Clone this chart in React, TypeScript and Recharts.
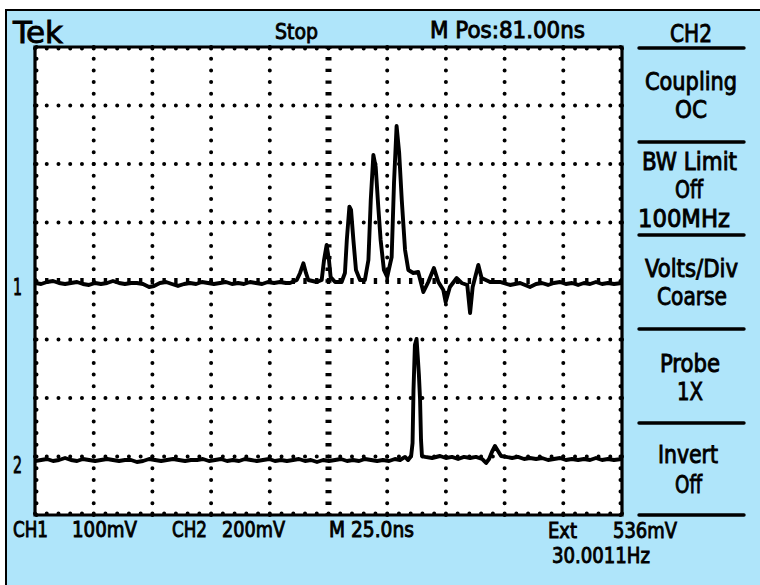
import React from 'react';
import { LineChart, Line, XAxis, YAxis, ReferenceLine, ReferenceArea } from 'recharts';

// CH1 samples: [time ns, mV] (100 mV/div, ground at centre)
const ch1Samples: [number, number][] = [
  [0, -3.4], [2.6, -5.1], [5.1, -1.7], [7.7, 0], [10.2, -3.4], [12.8, -5.1], [15.3, -3.4], [17.9, -1.7],
  [20.4, -5.1], [23.0, -6.8], [25.6, -3.4], [28.1, -5.1], [30.7, -3.4], [33.2, 0], [35.8, -3.4], [38.3, -5.1],
  [40.9, -3.4], [43.4, -3.4], [46.0, -5.1], [48.6, -10.3], [50.7, -8.5], [53.2, -3.4], [55.8, -1.7], [58.3, -5.1],
  [60.9, -8.5], [63.5, -5.1], [66.0, -3.4], [68.6, -5.1], [71.1, -1.7], [73.7, -3.4], [76.2, -5.1], [78.8, -3.4],
  [81.3, -1.7], [83.9, -5.1], [86.5, -3.4], [89.0, -5.1], [91.6, -1.7], [94.1, -3.4], [96.7, -5.1], [99.2, -1.7],
  [101.8, -3.4], [104.3, -1.7], [106.9, -3.4], [108.6, -3.4],
  [111.5, 1.7], [112.9, 13.7], [114.3, 30.3], [115.4, 13.7], [116.4, 1.7], [120.0, -1.7], [122.1, 1.7],
  [123.1, 35.9], [124.2, 61.5], [125.2, 35.9], [125.9, 6.8], [127.8, -1.7], [130.6, -1.7],
  [132.0, 13.7], [132.8, 70.1], [133.9, 127.0], [134.6, 121.4], [135.6, 70.1], [136.7, 18.8], [138.4, 1.7],
  [140.5, 1.7], [142.0, 35.9], [143.0, 138.5], [144.1, 215.4], [145.1, 194.9], [146.2, 126.5], [147.2, 70.1],
  [148.6, 18.8], [150.0, 6.8], [151.9, 41.0], [152.9, 167.5], [154.0, 265.0], [155.1, 218.8], [156.2, 138.5],
  [157.6, 53.0], [159.0, 18.8], [161.1, 13.7], [163.2, 15.4], [165.4, -18.8], [167.5, -1.7], [169.9, 22.2],
  [171.8, -1.7], [173.9, -15.4], [174.9, -35.9], [176.7, -10.3], [179.6, 5.1], [181.7, -3.4], [184.1, -6.8],
  [185.3, -54.7], [186.4, -10.3], [188.8, 27.4], [190.2, 5.1], [193.8, -1.7], [198.0, -1.7], [202.3, -6.8],
  [206.6, -3.4], [210.8, -10.3], [213.4, -5.1], [215.9, -3.4], [218.5, -6.8], [221.0, -3.4], [223.6, -1.7],
  [226.1, -5.1], [228.7, -3.4], [231.3, -6.8], [233.8, -3.4], [236.4, -5.1], [238.9, -1.7], [241.5, -5.1],
  [244.0, -3.4], [246.6, -5.1], [250.0, -3.4],
];

// CH2 samples: [time ns, mV] (200 mV/div)
const ch2Samples: [number, number][] = [
  [0, 4.6], [2.6, 8.0], [5.1, 11.5], [7.7, 4.6], [10.2, 8.0], [12.8, 14.9], [15.3, 8.0], [17.9, 4.6],
  [20.4, 11.5], [23.0, 8.0], [25.6, 4.6], [28.1, 8.0], [30.7, 11.5], [33.2, 8.0], [35.8, 4.6], [38.3, 8.0],
  [40.9, 8.0], [43.4, 1.2], [46.0, 4.6], [48.6, 11.5], [51.1, 8.0], [53.7, 4.6], [56.2, 8.0], [58.8, 11.5],
  [61.3, 8.0], [63.9, 4.6], [66.4, 8.0], [69.0, 8.0], [71.5, 11.5], [74.1, 4.6], [76.7, 8.0], [79.2, 11.5],
  [81.8, 4.6], [84.3, 8.0], [86.9, 4.6], [89.4, 11.5], [92.0, 8.0], [94.5, 4.6], [97.1, 8.0], [99.7, 11.5],
  [102.2, 4.6], [104.8, 8.0], [107.3, 4.6], [109.9, 8.0], [112.4, 11.5], [115.0, 4.6], [117.5, 8.0], [120.1, 1.2],
  [122.7, 8.0], [125.2, 4.6], [127.8, 8.0], [130.3, 11.5], [132.9, 4.6], [135.4, 8.0], [138.0, 4.6], [140.5, 11.5],
  [143.1, 8.0], [145.7, 4.6], [148.2, 8.0], [150.8, 4.6], [153.3, 11.5], [155.5, 8.0], [157.6, 18.5], [158.9, 8.0],
  [160.2, 21.7], [160.8, 66.2], [161.2, 247.4], [161.8, 401.2], [162.5, 421.7], [163.1, 350.0], [163.5, 298.7],
  [164.0, 213.3], [164.4, 76.6], [164.8, 21.7], [166.1, 18.5], [169.1, 14.9], [172.5, 21.7], [175.0, 14.9],
  [177.6, 18.5], [180.2, 11.5], [182.7, 18.5], [185.3, 14.9], [187.8, 18.5], [190.4, 11.5], [192.1, -2.2],
  [193.4, 11.5], [194.6, 35.4], [195.9, 55.9], [197.2, 38.8], [198.5, 21.7], [200.6, 18.5], [203.2, 14.9],
  [205.7, 18.5], [208.3, 11.5], [210.8, 14.9], [213.4, 11.5], [215.9, 14.9], [218.5, 8.0], [221.0, 11.5],
  [223.6, 14.9], [226.1, 8.0], [228.7, 11.5], [231.3, 8.0], [233.8, 11.5], [236.4, 8.0], [238.9, 14.9],
  [241.5, 8.0], [244.0, 11.5], [246.6, 8.0], [250.0, 11.5],
];

const gridTimes = [25, 50, 75, 100, 150, 175, 200, 225];
const centerTime = 125;
const gridLevelsCh1 = [-300, -200, -100, 100, 200, 300];
const centerLevelCh1 = 0;

const headerTexts: [string, number, number, number, number][] = [
  // text, x, baseline, fontSize, width
  ['Tek', 13, 43, 31, 50],
  ['Stop', 275, 38.5, 22, 43],
  ['M Pos:81.00ns', 430, 37.5, 23, 155],
  ['CH2', 670, 41.5, 25, 42],
];
const menuTexts: [string, number, number, number, number][] = [
  ['Coupling', 645, 90, 24, 92],
  ['OC', 675, 118, 24, 32],
  ['BW Limit', 642, 170, 24, 95],
  ['Off', 675, 198, 24, 28],
  ['100MHz', 638, 226.5, 24, 92],
  ['Volts/Div', 645, 277, 24, 93],
  ['Coarse', 657, 305, 24, 70],
  ['Probe', 660, 372, 24, 60],
  ['1X', 677, 400, 24, 26],
  ['Invert', 658, 463, 24, 60],
  ['Off', 675, 493, 24, 27],
];
const footerTexts: [string, number, number, number, number][] = [
  ['CH1', 13, 537, 21, 35],
  ['100mV', 72, 537, 21, 65],
  ['CH2', 172, 537, 21, 35],
  ['200mV', 222, 537, 21, 63],
  ['M 25.0ns', 329, 537, 21, 85],
  ['Ext', 548, 538, 21, 29],
  ['536mV', 613, 538, 21, 64],
  ['30.0011Hz', 552, 563, 21, 98],
  ['1', 13, 295, 23, 9],
  ['2', 13, 473, 23, 9],
];
const menuLineYs = [48, 142, 235, 329, 423, 515];

const BLUE = '#afe5fa';
const FONT = "'DejaVu Sans Condensed', 'DejaVu Sans', sans-serif";

const ch1Data = ch1Samples.map(([t, v]) => ({ t, v }));
const ch2Data = ch2Samples.map(([t, v]) => ({ t, v }));

const dotStyle = {
  stroke: '#000',
  strokeWidth: 4,
  strokeLinecap: 'round' as const,
};

export default function App() {
  const allTexts = [...headerTexts, ...menuTexts, ...footerTexts];
  return (
    <div style={{ position: 'fixed', left: 0, top: 0, width: 760, height: 585, background: '#fff', overflow: 'hidden' }}>
      <div
        style={{
          position: 'absolute', left: 4.5, top: 9, right: 0, bottom: 0,
          background: BLUE, borderLeft: '2.5px solid #000', borderTop: '2.5px solid #000',
        }}
      />
      <div style={{ position: 'absolute', left: 0, top: 0 }}>
        <LineChart width={760} height={585} margin={{ top: 47, left: 35, right: 138, bottom: 70 }}>
          <XAxis dataKey="t" type="number" domain={[0, 250]} hide allowDataOverflow />
          <YAxis yAxisId="ch1" type="number" domain={[-400, 400]} hide allowDataOverflow />
          <YAxis yAxisId="ch2" type="number" domain={[-180, 1420]} hide allowDataOverflow />
          <ReferenceArea yAxisId="ch1" x1={0} x2={250} y1={-400} y2={400} fill="#fff" fillOpacity={1} stroke="#000" strokeWidth={3.2} />
          {gridTimes.map((t) => (
            <ReferenceLine key={'gx' + t} yAxisId="ch1" x={t} {...dotStyle} strokeDasharray="0 11.7" />
          ))}
          {gridLevelsCh1.map((v) => (
            <ReferenceLine key={'gy' + v} yAxisId="ch1" y={v} {...dotStyle} strokeDasharray="0 11.74" />
          ))}
          <ReferenceLine yAxisId="ch1" x={centerTime} stroke="#000" strokeWidth={6} strokeDasharray="3.4 8.3" strokeDashoffset={1.7} />
          <ReferenceLine yAxisId="ch1" y={centerLevelCh1} stroke="#000" strokeWidth={6} strokeDasharray="3.4 8.34" strokeDashoffset={1.7} />
          <ReferenceLine yAxisId="ch1" x={0.64} {...dotStyle} strokeDasharray="0 11.7" />
          <ReferenceLine yAxisId="ch1" x={249.36} {...dotStyle} strokeDasharray="0 11.7" />
          <ReferenceLine yAxisId="ch1" y={397.4} {...dotStyle} strokeDasharray="0 11.74" />
          <ReferenceLine yAxisId="ch1" y={-397.4} {...dotStyle} strokeDasharray="0 11.74" />
          <Line
            yAxisId="ch1" data={ch1Data} dataKey="v" type="linear" stroke="#000" strokeWidth={3.9}
            strokeLinejoin="round" dot={false} activeDot={false} isAnimationActive={false}
          />
          <Line
            yAxisId="ch2" data={ch2Data} dataKey="v" type="linear" stroke="#000" strokeWidth={3.9}
            strokeLinejoin="round" dot={false} activeDot={false} isAnimationActive={false}
          />
        </LineChart>
      </div>
      <svg width={760} height={585} style={{ position: 'absolute', left: 0, top: 0, pointerEvents: 'none' }}>
        {menuLineYs.map((y) => (
          <line key={'ml' + y} x1={639} x2={744} y1={y} y2={y} stroke="#000" strokeWidth={3.4} strokeLinecap="round" />
        ))}
        {allTexts.map(([s, x, y, fs, w], i) => (
          <text
            key={'t' + i} x={x} y={y} fontSize={fs} fontFamily={FONT} fill="#000" stroke="#000" strokeWidth={0.85}
            textLength={w} lengthAdjust="spacingAndGlyphs"
          >
            {s}
          </text>
        ))}
      </svg>
    </div>
  );
}
